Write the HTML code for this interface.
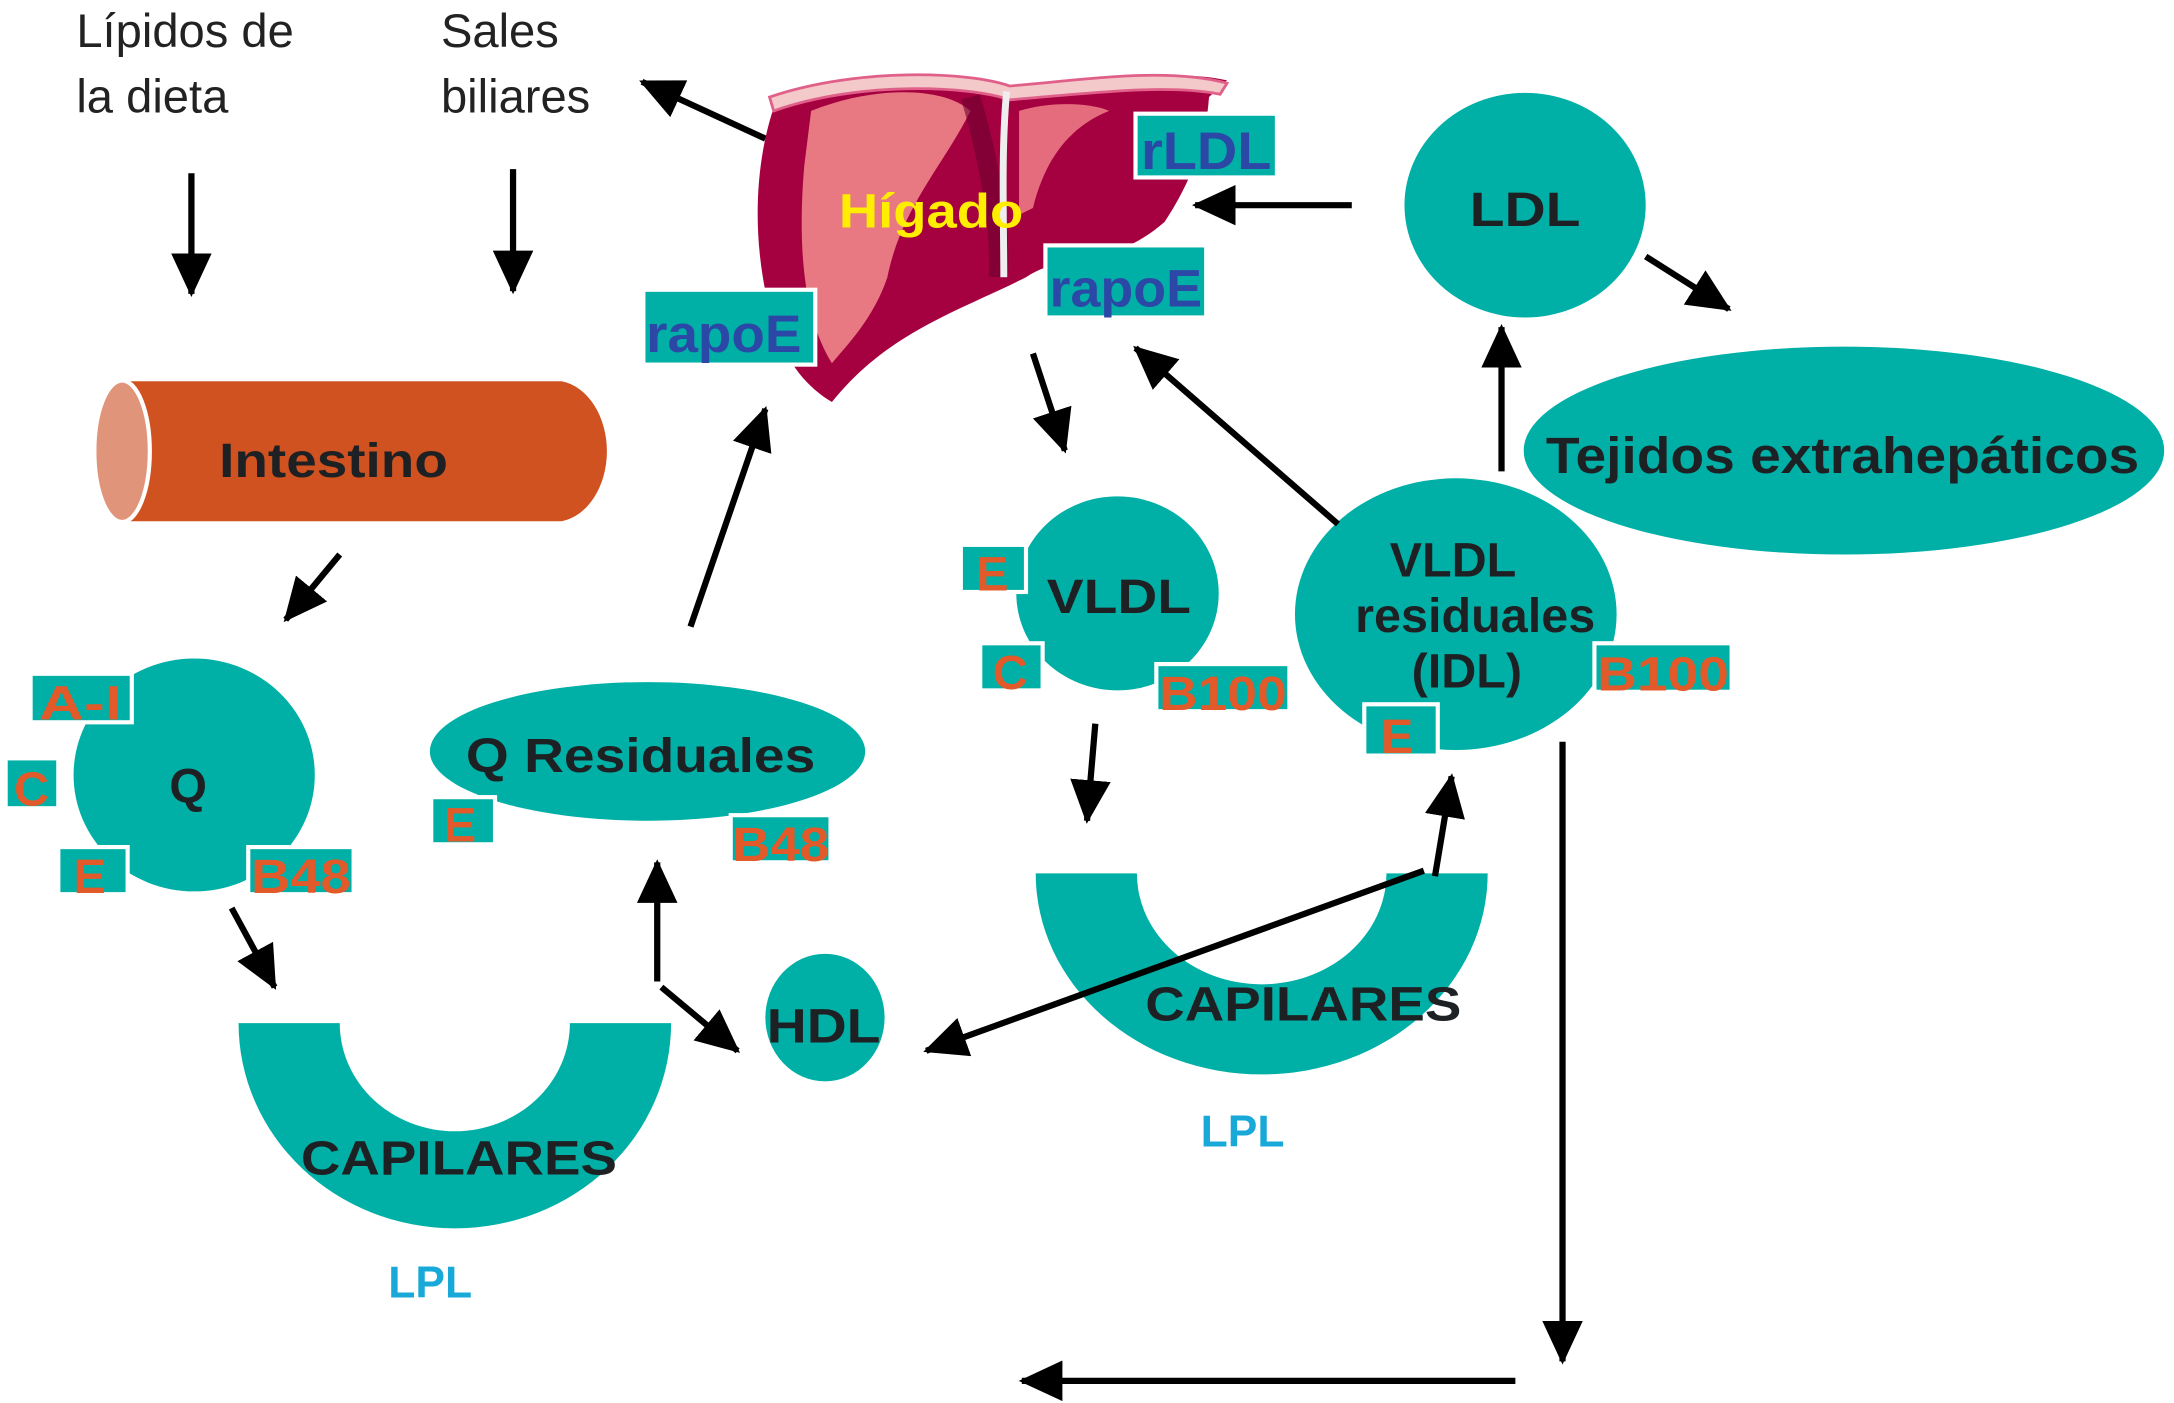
<!DOCTYPE html>
<html><head><meta charset="utf-8"><style>
html,body{margin:0;padding:0;background:#fff;}
svg{display:block;}
text{font-family:"Liberation Sans",sans-serif;}
.b{font-weight:bold;fill:#1e2124;font-size:35px;}
.o{font-weight:bold;fill:#e25a2a;font-size:35px;}
.bl{font-weight:bold;fill:#2b48a6;font-size:38px;}
.lpl{font-weight:bold;fill:#19a9d9;font-size:32px;}
.n{fill:#222;font-size:34px;}
.tb{fill:#00b0a6;stroke:#fff;stroke-width:3;}
.ar{stroke:#000;stroke-width:4.5;fill:none;}
</style></head><body>
<svg width="2174" height="1403" viewBox="0 0 1568 1012" xmlns="http://www.w3.org/2000/svg">
<defs>
<marker id="a" markerWidth="7" markerHeight="6.5" refX="6.5" refY="3.25" orient="auto" markerUnits="strokeWidth">
<path d="M0,0 L7,3.25 L0,6.5 Z" fill="#000"/></marker>
</defs>
<rect width="1568" height="1012" fill="#fff"/>

<text class="n" x="55" y="34">Lípidos de</text>
<text class="n" x="55" y="81">la dieta</text>
<text class="n" x="318" y="34">Sales</text>
<text class="n" x="318" y="81">biliares</text>
<line class="ar" x1="138" y1="125" x2="138" y2="212" marker-end="url(#a)"/>
<line class="ar" x1="370" y1="122" x2="370" y2="210" marker-end="url(#a)"/>
<line class="ar" x1="552" y1="100" x2="463" y2="59" marker-end="url(#a)"/>

<path d="M88,275 H405 A38,51 0 0 1 405,376 H88 Z" fill="#cf5220"/>
<ellipse cx="88" cy="325.5" rx="20" ry="51" fill="#e0957a" stroke="#fff" stroke-width="3"/>
<text class="b" x="158" y="344" textLength="165" lengthAdjust="spacingAndGlyphs">Intestino</text>
<line class="ar" x1="245" y1="400" x2="206" y2="447" marker-end="url(#a)"/>

<ellipse cx="140" cy="559" rx="87" ry="84" fill="#00b0a6"/>
<text class="b" x="122" y="579">Q</text>
<rect class="tb" x="22" y="486" width="73" height="35"/><text class="o" x="28" y="519" textLength="60" lengthAdjust="spacingAndGlyphs">A-I</text>
<rect class="tb" x="4" y="547" width="38" height="36"/><text class="o" x="10" y="581">C</text>
<rect class="tb" x="42" y="611" width="50" height="34"/><text class="o" x="53" y="644">E</text>
<rect class="tb" x="179" y="611" width="76" height="34"/><text class="o" x="181" y="644" textLength="72" lengthAdjust="spacingAndGlyphs">B48</text>
<line class="ar" x1="167" y1="655" x2="198" y2="712" marker-end="url(#a)"/>

<ellipse cx="467" cy="542" rx="157" ry="50" fill="#00b0a6"/>
<text class="b" x="336" y="557" textLength="252" lengthAdjust="spacingAndGlyphs">Q Residuales</text>
<rect class="tb" x="311" y="575" width="46" height="34"/><text class="o" x="320" y="607">E</text>
<rect class="tb" x="527" y="588" width="72" height="34"/><text class="o" x="528" y="621" textLength="70" lengthAdjust="spacingAndGlyphs">B48</text>
<line class="ar" x1="498" y1="452" x2="552" y2="295" marker-end="url(#a)"/>
<line class="ar" x1="474" y1="708" x2="474" y2="622" marker-end="url(#a)"/>
<line class="ar" x1="477" y1="712" x2="532" y2="758" marker-end="url(#a)"/>

<path d="M172,738 A156,148 0 0 0 484,738 H411 A83,78 0 0 1 245,738 Z" fill="#00b0a6"/>
<text class="b" x="217" y="847" textLength="228" lengthAdjust="spacingAndGlyphs">CAPILARES</text>
<text class="lpl" x="280" y="936">LPL</text>

<ellipse cx="595" cy="734" rx="43" ry="46" fill="#00b0a6"/>
<text class="b" x="553" y="752" textLength="82" lengthAdjust="spacingAndGlyphs">HDL</text>

<!-- liver -->
<path d="M560,72 C620,52 690,48 728,62 C780,62 840,48 885,58 L872,70 C870,100 860,130 840,160 C800,195 770,180 740,200 C690,225 640,240 600,290 C575,275 560,250 552,210 C542,160 546,110 560,72 Z" fill="#a5003f"/>
<path d="M585,80 C630,62 680,62 700,80 C680,120 650,150 640,200 C630,230 610,250 600,262 C580,230 575,180 580,120 Z" fill="#f0858a" opacity="0.9"/>
<path d="M735,80 C760,72 790,75 800,80 C775,90 755,110 745,150 L735,155 Z" fill="#ef7f88" opacity="0.85"/>
<path d="M700,70 C715,120 722,170 720,200" stroke="#6a0030" stroke-width="14" fill="none" opacity="0.6"/>
<path d="M555,70 C620,48 700,52 728,62 C780,58 840,48 885,60 L880,68 C840,60 780,68 728,72 C700,62 620,58 558,80 Z" fill="#f3c9c9" stroke="#e0608a" stroke-width="2"/>
<path d="M726,66 C722,110 724,160 724,200" stroke="#eeeeee" stroke-width="5" fill="none"/>
<text x="605" y="164" style="font-weight:bold;font-size:35px;fill:#ffee00" textLength="133" lengthAdjust="spacingAndGlyphs">Hígado</text>
<rect class="tb" x="819" y="82" width="102" height="46"/><text class="bl" x="823" y="122" textLength="94" lengthAdjust="spacingAndGlyphs">rLDL</text>
<rect class="tb" x="754" y="177" width="116" height="52"/><text class="bl" x="757" y="221" textLength="110" lengthAdjust="spacingAndGlyphs">rapoE</text>
<rect class="tb" x="464" y="209" width="124" height="54"/><text class="bl" x="466" y="254" textLength="112" lengthAdjust="spacingAndGlyphs">rapoE</text>

<ellipse cx="1100" cy="148" rx="87" ry="81" fill="#00b0a6"/>
<text class="b" x="1060" y="163" textLength="80" lengthAdjust="spacingAndGlyphs">LDL</text>
<line class="ar" x1="975" y1="148" x2="862" y2="148" marker-end="url(#a)"/>
<line class="ar" x1="1187" y1="185" x2="1247" y2="223" marker-end="url(#a)"/>

<ellipse cx="1330" cy="325" rx="231" ry="75" fill="#00b0a6"/>
<text class="b" x="1115" y="341" style="font-size:37px" textLength="428" lengthAdjust="spacingAndGlyphs">Tejidos extrahepáticos</text>
<line class="ar" x1="1083" y1="340" x2="1083" y2="236" marker-end="url(#a)"/>

<line class="ar" x1="745" y1="255" x2="768" y2="325" marker-end="url(#a)"/>
<ellipse cx="806" cy="428" rx="73" ry="70" fill="#00b0a6"/>
<text class="b" x="755" y="442" textLength="104" lengthAdjust="spacingAndGlyphs">VLDL</text>
<rect class="tb" x="693" y="393" width="47" height="34"/><text class="o" x="704" y="426">E</text>
<rect class="tb" x="707" y="464" width="45" height="34"/><text class="o" x="716" y="497">C</text>
<rect class="tb" x="834" y="479" width="96" height="34"/><text class="o" x="836" y="512" textLength="92" lengthAdjust="spacingAndGlyphs">B100</text>
<line class="ar" x1="790" y1="522" x2="784" y2="592" marker-end="url(#a)"/>

<ellipse cx="1050" cy="443" rx="116" ry="98" fill="#00b0a6"/>
<text class="b" x="1048" y="416" text-anchor="middle">VLDL</text>
<text class="b" x="1064" y="456" text-anchor="middle">residuales</text>
<text class="b" x="1058" y="496" text-anchor="middle">(IDL)</text>
<rect class="tb" x="1150" y="464" width="99" height="35"/><text class="o" x="1152" y="498" textLength="95" lengthAdjust="spacingAndGlyphs">B100</text>
<rect class="tb" x="984" y="508" width="53" height="37"/><text class="o" x="996" y="543">E</text>
<line class="ar" x1="965" y1="378" x2="819" y2="251" marker-end="url(#a)"/>

<path d="M747,630 A163,145 0 0 0 1073,630 H1000 A90,80 0 0 1 820,630 Z" fill="#00b0a6"/>
<text class="b" x="826" y="736" textLength="228" lengthAdjust="spacingAndGlyphs">CAPILARES</text>
<text class="lpl" x="866" y="827">LPL</text>
<line class="ar" x1="1027" y1="628" x2="668" y2="758" marker-end="url(#a)"/>
<line class="ar" x1="1035" y1="632" x2="1047" y2="560" marker-end="url(#a)"/>

<line class="ar" x1="1127" y1="535" x2="1127" y2="982" marker-end="url(#a)"/>
<line class="ar" x1="1093" y1="996" x2="737" y2="996" marker-end="url(#a)"/>
</svg>
</body></html>
